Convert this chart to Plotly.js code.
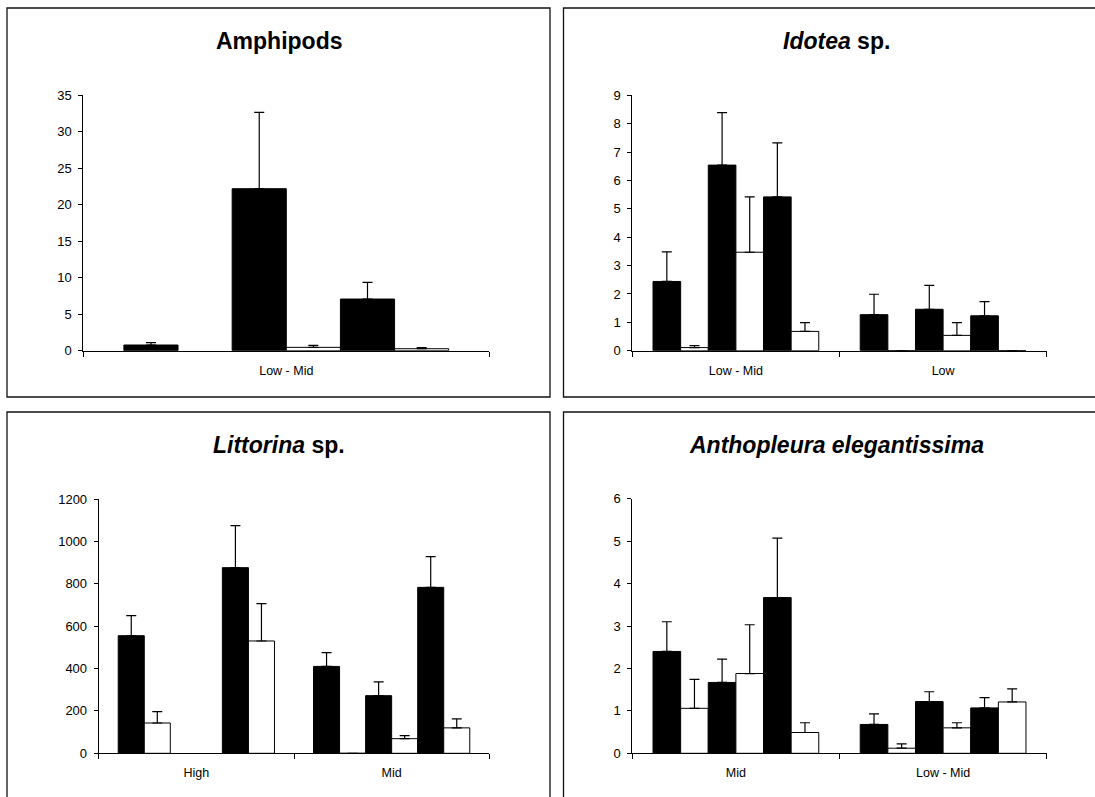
<!DOCTYPE html>
<html>
<head>
<meta charset="utf-8">
<script src="https://cdn.plot.ly/plotly-3.0.1.min.js"></script>
<style>
html,body{margin:0;padding:0;background:#fff;}
#chart{width:1095px;height:797px;}
</style>
</head>
<body>
<div id="chart"></div>
<script>
// ---------- DATA ----------
// Six series per panel, alternating filled (black) and open (white) bars.
const seriesFills = ['#000000', '#ffffff', '#000000', '#ffffff', '#000000', '#ffffff'];

// Amphipods
const amphipodsCats = ['Low - Mid'];
const amphipodsLowMidMean = [0.78, null, 22.2, 0.46, 7.08, 0.27];
const amphipodsLowMidErr  = [0.32, null, 10.46, 0.27, 2.29, 0.14];

// Idotea sp.
const idoteaCats = ['Low - Mid', 'Low'];
const idoteaLowMidMean = [2.44, 0.11, 6.54, 3.47, 5.42, 0.68];
const idoteaLowMidErr  = [1.04, 0.07, 1.85, 1.95, 1.90, 0.31];
const idoteaLowMean    = [1.27, 0, 1.46, 0.54, 1.23, 0];
const idoteaLowErr     = [0.72, 0, 0.84, 0.45, 0.50, 0];

// Littorina sp.
const littorinaCats = ['High', 'Mid'];
const littorinaHighMean = [555, 143, null, null, 876, 530];
const littorinaHighErr  = [95, 54, null, null, 198, 176];
const littorinaMidMean  = [410, 0, 272, 69, 783, 120];
const littorinaMidErr   = [65, 0, 65, 14, 145, 42];

// Anthopleura elegantissima
const anthoCats = ['Mid', 'Low - Mid'];
const anthoMidMean    = [2.40, 1.06, 1.67, 1.88, 3.67, 0.49];
const anthoMidErr     = [0.70, 0.68, 0.55, 1.15, 1.40, 0.23];
const anthoLowMidMean = [0.68, 0.12, 1.22, 0.60, 1.07, 1.21];
const anthoLowMidErr  = [0.25, 0.10, 0.23, 0.12, 0.24, 0.31];

// Titles
const titles = [
  '<b>Amphipods</b>',
  '<b><i>Idotea</i> sp.</b>',
  '<b><i>Littorina</i> sp.</b>',
  '<b><i>Anthopleura elegantissima</i></b>'
];

// ---------- LAYOUT HELPERS ----------
const W = 1095, H = 797;
const px = x => x / W;
const py = y => 1 - y / H;
const FONT = 'Arial, "Liberation Sans", sans-serif';

const traces = [];
function addPanel(idx, cats, meansPerCat, errsPerCat) {
  const sfx = idx === 1 ? '' : String(idx);
  for (let s = 0; s < 6; s++) {
    traces.push({
      type: 'bar',
      x: cats,
      y: meansPerCat.map(m => m[s]),
      xaxis: 'x' + sfx,
      yaxis: 'y' + sfx,
      marker: {color: seriesFills[s], line: {color: '#000', width: 1}},
      error_y: {
        type: 'data',
        symmetric: false,
        array: errsPerCat.map(e => e[s]),
        arrayminus: errsPerCat.map(e => 0),
        color: '#000',
        thickness: 1.2,
        width: 5
      },
      showlegend: false,
      hoverinfo: 'skip'
    });
  }
}

addPanel(1, amphipodsCats, [amphipodsLowMidMean], [amphipodsLowMidErr]);
addPanel(2, idoteaCats, [idoteaLowMidMean, idoteaLowMean], [idoteaLowMidErr, idoteaLowErr]);
addPanel(3, littorinaCats, [littorinaHighMean, littorinaMidMean], [littorinaHighErr, littorinaMidErr]);
addPanel(4, anthoCats, [anthoMidMean, anthoLowMidMean], [anthoMidErr, anthoLowMidErr]);

function xAxis(x0, x1, anchor) {
  return {
    domain: [px(x0), px(x1)], anchor: anchor, type: 'category',
    showline: true, linecolor: '#000', linewidth: 1,
    ticks: 'outside', tickson: 'boundaries', ticklen: 5, tickcolor: '#000', tickwidth: 1,
    tickfont: {family: FONT, size: 12.5, color: '#000'},
    ticklabelstandoff: 8,
    showgrid: false, zeroline: false, fixedrange: true
  };
}
function yAxis(yBottom, yTop, anchor, max, dtick) {
  return {
    domain: [py(yBottom), py(yTop)], anchor: anchor,
    range: [0, max], tick0: 0, dtick: dtick,
    showline: true, linecolor: '#000', linewidth: 1,
    ticks: 'outside', ticklen: 4, tickcolor: '#000', tickwidth: 1,
    tickfont: {family: FONT, size: 13, color: '#000'},
    ticklabelstandoff: 4,
    showgrid: false, zeroline: false, fixedrange: true
  };
}

const panelBoxes = [
  [7, 8, 550, 397],
  [563.5, 8, 1110, 397],
  [7, 412, 550, 810],
  [563.5, 412, 1110, 810]
];
const titlePos = [[279, 41], [836, 41], [279, 445], [836, 445]];

const layout = {
  width: W, height: H,
  margin: {l: 0, r: 0, t: 0, b: 0},
  paper_bgcolor: '#fff', plot_bgcolor: 'rgba(0,0,0,0)',
  barmode: 'group', bargap: 0.2, bargroupgap: 0,
  showlegend: false,
  font: {family: FONT, color: '#000'},
  xaxis:  xAxis(83.3, 489.3, 'y'),
  yaxis:  yAxis(350.7, 95.3, 'x', 35, 5),
  xaxis2: xAxis(632.3, 1046.7, 'y2'),
  yaxis2: yAxis(350.7, 95.3, 'x2', 9, 1),
  xaxis3: xAxis(98.7, 489.3, 'y3'),
  yaxis3: yAxis(753.3, 499, 'x3', 1200, 200),
  xaxis4: xAxis(632.3, 1046.7, 'y4'),
  yaxis4: yAxis(753.3, 498.7, 'x4', 6, 1),
  shapes: panelBoxes.map(b => ({
    type: 'rect', xref: 'paper', yref: 'paper',
    x0: px(b[0]), x1: px(b[2]), y0: py(b[3]), y1: py(b[1]),
    line: {color: '#111', width: 1.3}, fillcolor: 'rgba(0,0,0,0)', layer: 'below'
  })),
  annotations: titles.map((t, i) => ({
    text: t, xref: 'paper', yref: 'paper',
    x: px(titlePos[i][0]), y: py(titlePos[i][1]),
    xanchor: 'center', yanchor: 'middle', showarrow: false,
    font: {family: FONT, size: 23, color: '#000'}
  }))
};

Plotly.newPlot('chart', traces, layout, {staticPlot: true, displayModeBar: false});
</script>
</body>
</html>
